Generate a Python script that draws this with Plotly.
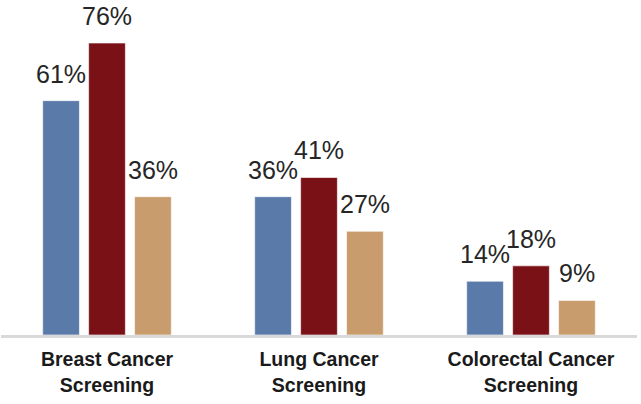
import plotly.graph_objects as go

categories = ["Breast Cancer<br>Screening", "Lung Cancer<br>Screening", "Colorectal Cancer<br>Screening"]
series_names = ["Series A", "Series B", "Series C"]
series_values = [
    [61, 36, 14],
    [76, 41, 18],
    [36, 27, 9],
]
series_colors = ["#5A7BA9", "#7A1117", "#C89C6C"]

bargap = 0.35
bargroupgap = 0.2
label_font = dict(family="Liberation Sans, Arial, sans-serif", size=25, color="#262626")

fig = go.Figure()
n = len(series_values)
slot = (1 - bargap) / n
annotations = []
for i, (name, vals, col) in enumerate(zip(series_names, series_values, series_colors)):
    fig.add_trace(go.Bar(
        x=categories, y=vals, name=name,
        marker=dict(color=col, line=dict(color="rgba(255,255,255,0.6)", width=1)),
    ))
    offset = (i - (n - 1) / 2) * slot
    for j, v in enumerate(vals):
        annotations.append(dict(
            x=j + offset, y=v, xref="x", yref="y",
            text=f"{v}%", showarrow=False, yanchor="bottom",
            yshift=11, font=label_font,
        ))

fig.update_layout(
    width=641, height=404,
    margin=dict(l=1, r=4, t=0, b=69),
    paper_bgcolor="white", plot_bgcolor="white",
    barmode="group", bargap=bargap, bargroupgap=bargroupgap,
    showlegend=False,
    annotations=annotations,
    xaxis=dict(
        showline=True, linecolor="#D9D9D9", linewidth=3,
        showgrid=False, zeroline=False, ticks="",
        ticklabelstandoff=5,
        tickfont=dict(family="Liberation Sans, Arial, sans-serif",
                      size=19.5, color="#1A1A1A", weight="bold"),
    ),
    yaxis=dict(
        range=[0, 87.2], visible=False, showgrid=False, zeroline=False,
    ),
)

fig.write_html("out.html")
